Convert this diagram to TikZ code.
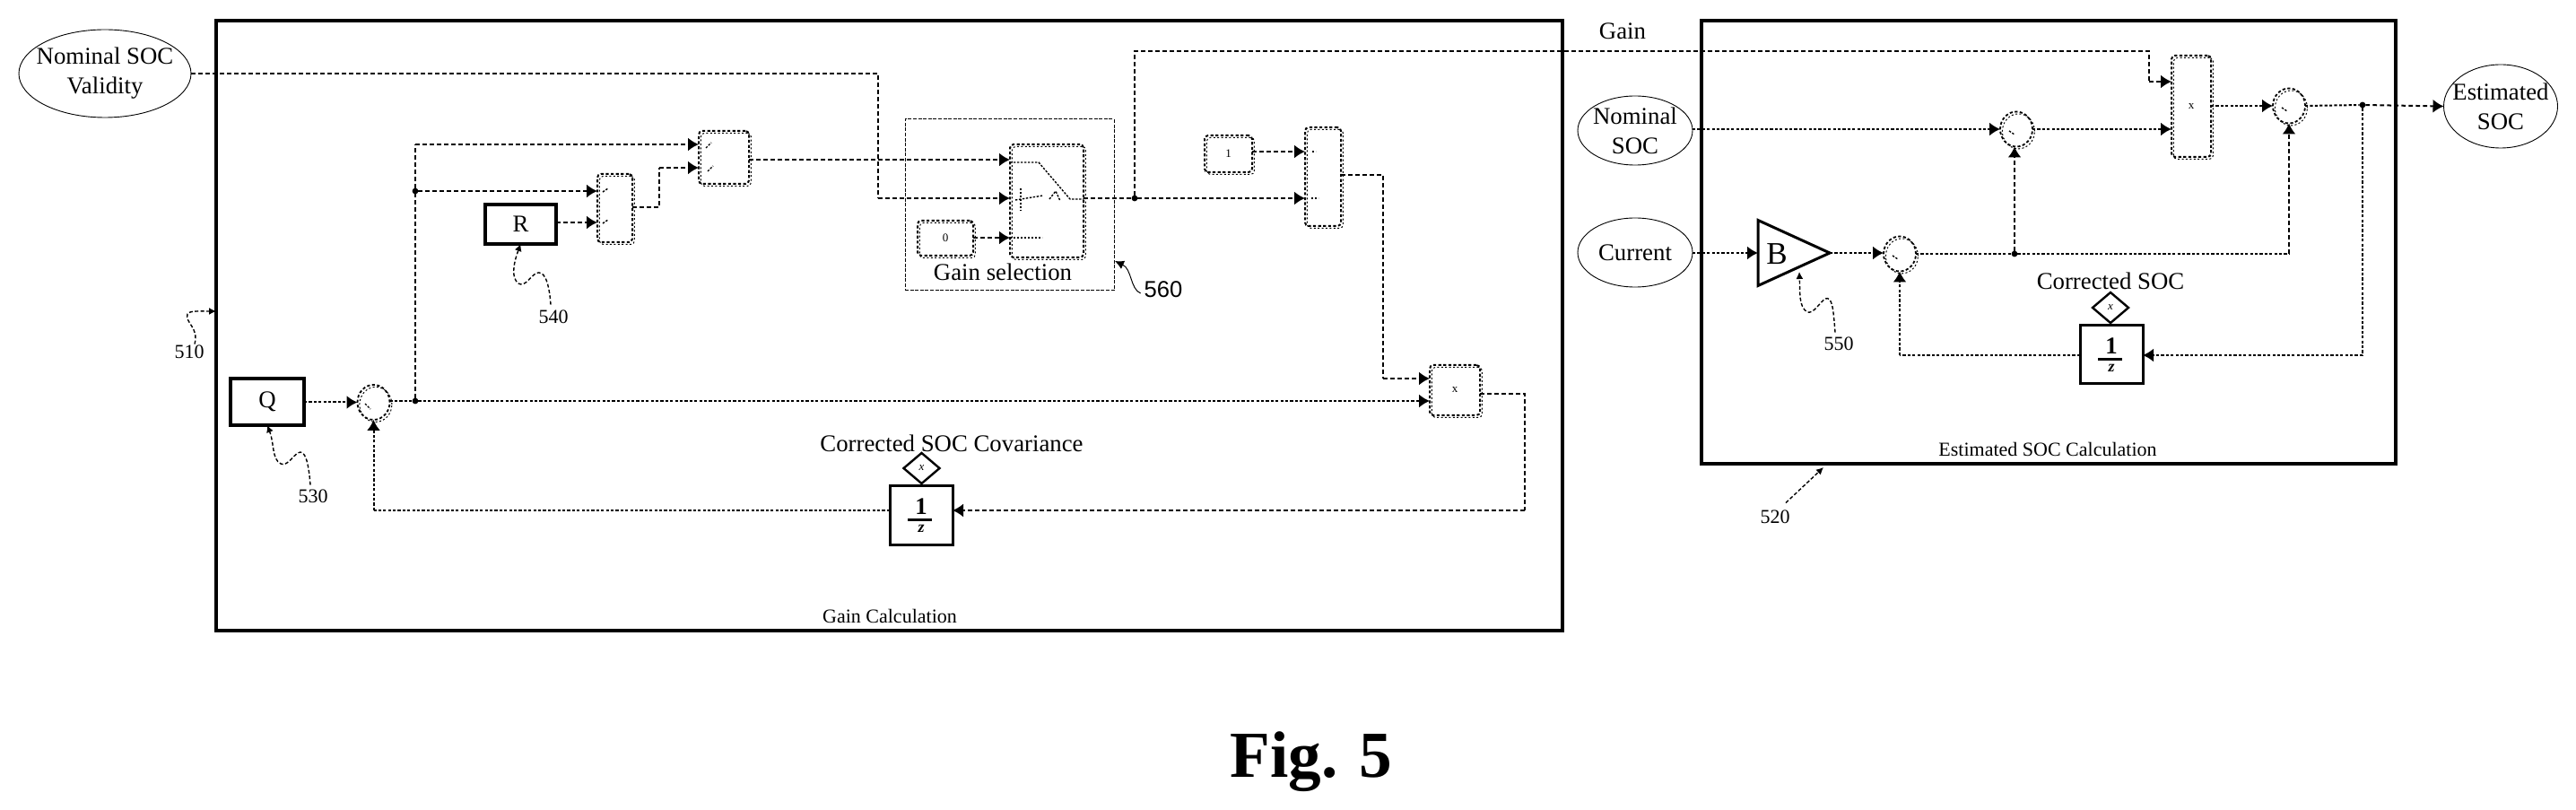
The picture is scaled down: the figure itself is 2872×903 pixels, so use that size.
\documentclass[tikz,border=0pt]{standalone}
\usepackage{fontspec}
\setmainfont{Liberation Serif}
\setsansfont{Liberation Sans}
\usetikzlibrary{arrows.meta,shapes.geometric,calc}
\tikzset{
  x=0.5pt,y=-0.5pt,
  every node/.style={inner sep=0pt,outer sep=0pt},
  txt/.style={font=\fontsize{13.4}{16.5}\selectfont,align=center},
  small/.style={font=\fontsize{11}{13}\selectfont},
  tiny/.style={font=\fontsize{6.5}{7}\selectfont},
  frame/.style={draw,line width=2.3pt,rectangle},
  solidbox/.style={draw,line width=1.7pt,rectangle,txt},
  intbox/.style={draw,line width=1.5pt,rectangle},
  shade/.style={preaction={draw,line width=.5pt,dash pattern=on 1pt off 1.2pt,transform canvas={xshift=1.2pt,yshift=-1.2pt}}},
  blk/.style={draw,line width=1pt,dash pattern=on 1.6pt off 1.2pt,rectangle,rounded corners=2pt,shade},
  sumnode/.style={draw,line width=.9pt,dash pattern=on 1.6pt off 1.2pt,ellipse,minimum width=18pt,minimum height=19.5pt,shade},
  oval/.style={draw,line width=.45pt,ellipse},
  dia/.style={draw,line width=1.2pt,diamond,minimum width=20pt,minimum height=17pt,font=\fontsize{6.5}{7}\itshape},
  conn/.style={line width=1pt,dash pattern=on 2.4pt off 1.6pt,-{Latex[length=6pt,width=7.5pt]}},
  fine/.style={line width=1pt,dash pattern=on 1.6pt off 1.1pt,-{Latex[length=6pt,width=7.5pt]}},
  plain/.style={line width=1pt,dash pattern=on 2.4pt off 1.6pt},
  plainfine/.style={line width=1pt,dash pattern=on 1.6pt off 1.1pt},
  jun/.style={circle,fill,minimum size=3.4pt},
  leader/.style={line width=.7pt,dash pattern=on 2pt off 1.2pt,-{Latex[length=4pt,width=4pt]}},
  tick/.style={line width=.7pt,dash pattern=on 1.2pt off .8pt},
  onebar/.style={font=\bfseries\fontsize{13.4}{14}\selectfont},
  zed/.style={font=\bfseries\itshape\fontsize{9}{10}\selectfont},
  fracbar/.style={line width=1.5pt},
}
\begin{document}
\begin{tikzpicture}
\useasboundingbox (0,0) rectangle (2872,903);
% frames
\node[frame,minimum width=750.5pt,minimum height=340pt] (fgain) at (991.5,363) {};
\node[frame,minimum width=387pt,minimum height=247pt] (fest) at (2284,270) {};
\node[small] (tgain) at (992,687) {Gain Calculation};
\node[small] (test) at (2283,501) {Estimated SOC Calculation};
% ports / rows
\coordinate (ra) at (0,57);
\coordinate (rb) at (0,91);
\coordinate (rc) at (0,143);
\coordinate (re) at (0,161);
\coordinate (rf) at (0,187);
\coordinate (rg) at (0,178);
\coordinate (rh) at (0,213);
\coordinate (ri) at (0,248);
\coordinate (rj) at (0,231);
\coordinate (rk) at (0,221);
\coordinate (rl) at (0,265);
\coordinate (rm) at (0,169);
\coordinate (rn) at (0,195);
\coordinate (ro) at (0,422);
\coordinate (rp) at (0,447);
\coordinate (rq) at (0,439);
\coordinate (rr) at (0,569);
\coordinate (rs) at (0,396);
\coordinate (cxa) at (979,0);
\coordinate (cxb) at (735,0);
\coordinate (cxc) at (1542,0);
\coordinate (cxd) at (1700,0);
\coordinate (cxe) at (2396,0);
% ellipses
\node[oval,minimum width=96pt,minimum height=49pt] (valid) at (117,82) {};
\node[txt] (tvalid) at (117,82) {Nominal SOC\\Validity};
\node[oval,minimum width=64pt,minimum height=38.5pt] (nom) at (1823,145.5) {};
\node[txt] (tnom) at (1823,145.5) {Nominal\\SOC};
\node[oval,minimum width=64pt,minimum height=38.5pt] (cur) at (1823,281.5) {};
\node[txt] (tcur) at (1823,281.5) {Current};
\node[oval,minimum width=63.5pt,minimum height=46.5pt] (est) at (2788,118.5) {};
\node[txt] (test2) at (2788,118.5) {Estimated\\SOC};
% solid blocks
\node[solidbox,minimum width=39.5pt,minimum height=22pt] (R) at (580.5,250) {R};
\node[solidbox,minimum width=41pt,minimum height=26pt] (Q) at (298,448) {Q};
\node[intbox,minimum width=35pt,minimum height=33pt] (intA) at (1027,575) {};
\node[onebar] (oneA) at (1027,565) {1};
\node[zed] (zA) at (1027,589) {z};
\draw[fracbar] (oneA.south west) ++(-8,6) coordinate (barAl) -- (barAl -| intA.center) -- ++(11.5,0);
\node[intbox,minimum width=35pt,minimum height=32.5pt] (intB) at (2354,395.5) {};
\node[onebar] (oneB) at (2354,386) {1};
\node[zed] (zB) at (2354,410) {z};
\draw[fracbar] (oneB.south west) ++(-8,6) coordinate (barBl) -- (barBl -| intB.center) -- ++(11.5,0);
\node[dia] (diaA) at (1027.5,522) {x};
\node[dia] (diaB) at (2353,343) {x};
\node[txt] (tcovar) at (1061,494) {Corrected SOC Covariance};
\node[txt] (tcorr) at (2353,313) {Corrected SOC};
% dashed blocks
\node[blk,minimum width=19.5pt,minimum height=38pt] (bA) at (685.5,232) {};
\node[blk,minimum width=28pt,minimum height=29.5pt] (bB) at (807,175.5) {};
\node[blk,minimum width=41pt,minimum height=63pt] (sw) at (1167,224) {};
\node[blk,minimum width=31pt,minimum height=19.5pt,tiny] (czero) at (1054,265.5) {0};
\node[blk,minimum width=26.5pt,minimum height=20.5pt,tiny] (cone) at (1369.5,171.5) {1};
\node[blk,minimum width=20pt,minimum height=55pt] (bC) at (1475,197) {};
\node[blk,minimum width=28pt,minimum height=28pt,tiny] (bD) at (1622,435) {x};
\node[blk,minimum width=22pt,minimum height=56.5pt,tiny] (bE) at (2443,118.5) {x};
\node[sumnode] (sA) at (416.5,448.5) {};
\node[sumnode] (sB) at (2248,144) {};
\node[sumnode] (sC) at (2552,118) {};
\node[sumnode] (sD) at (2118,283) {};
% gain triangle
\node[draw,line width=1.5pt,isosceles triangle,isosceles triangle stretches,minimum width=36.5pt,minimum height=40pt,anchor=lower side] (tri) at (1960,282) {};
\node[font=\fontsize{17.5}{18}\selectfont] (tB) at (1981,283) {B};
% gain selection
\node[draw,line width=.5pt,dash pattern=on 2pt off .8pt,rectangle,minimum width=116.5pt,minimum height=95.5pt] (gsel) at (1125.5,228.5) {};
\node[txt] (tsel) at (1118,303) {Gain selection};
% junctions
\node[jun] (jA) at (463,447) {};
\node[jun] (jB) at (463,213) {};
\node[jun] (jC) at (1265,221) {};
\node[jun] (jD) at (2246,283) {};
\node[jun] (jE) at (2634,117) {};
% connectors left
\draw[plain] (valid.east) -- (valid.east -| cxa) -- (cxa |- rk);
\draw[conn] (cxa |- rk) -- (sw.west |- rk);
\draw[fine] (Q.east |- sA) -- (sA.west);
\draw[plainfine] (sA.east |- rp) -- (jA);
\draw[fine] (jA) -- (bD.west |- rp);
\draw[plain] (jA) -- (jB);
\draw[conn] (jB) -- (bA.west |- rh);
\draw[plain] (jB) -- (jB |- re);
\draw[conn] (jB |- re) -- (bB.west |- re);
\draw[conn] (R.east |- ri) -- (bA.west |- ri);
\draw[plain] (bA.east |- rj) -- (cxb |- rj) -- (cxb |- rf);
\draw[conn] (cxb |- rf) -- (bB.west |- rf);
\draw[conn] (bB.east |- rg) -- (sw.west |- rg);
\draw[conn] (czero.east |- rl) -- (sw.west |- rl);
\draw[plain] (sw.east |- rk) -- (jC);
\draw[conn] (jC) -- (bC.west |- rk);
\draw[conn] (cone.east |- rm) -- (bC.west |- rm);
\draw[plain] (bC.east |- rn) -- (cxc |- rn) -- (cxc |- ro);
\draw[conn] (cxc |- ro) -- (bD.west |- ro);
\draw[plain] (bD.east |- rq) -- (cxd |- rq) -- (cxd |- rr);
\draw[conn] (cxd |- rr) -- (intA.east |- rr);
\draw[plainfine] (intA.west |- rr) -- (sA.south |- rr);
\draw[fine] (sA.south |- rr) -- (sA.south);
\draw[plain] (jC) -- (jC |- ra) -- (cxe |- ra) -- (cxe |- rb);
\draw[conn] (cxe |- rb) -- (bE.west |- rb);
% connectors right
\draw[fine] (nom.east |- sB) -- (sB.west);
\draw[fine] (sB.east) -- (bE.west |- sB);
\draw[fine] (bE.east |- sC) -- (sC.west);
\draw[plainfine] (sC.east) -- (jE);
\draw[conn] (jE) -- (est.west);
\draw[fine] (cur.east |- tri.lower side) -- (tri.lower side);
\draw[fine] (tri.apex) -- (sD.west |- tri.apex);
\draw[plainfine] (sD.east) -- (jD);
\draw[conn] (jD) -- (jD |- sB.south);
\draw[plainfine] (jD) -- (sC.south |- jD);
\draw[conn] (sC.south |- jD) -- (sC.south);
\draw[plainfine] (jE) -- (jE |- rs);
\draw[fine] (jE |- rs) -- (intB.east |- rs);
\draw[plainfine] (intB.west |- rs) -- (sD.south |- rs);
\draw[fine] (sD.south |- rs) -- (sD.south);
% switch interior
\coordinate (swa) at (1158,181);
\coordinate (swb) at (1193,222);
\draw[tick] (sw.west |- swa) -- (swa) -- (swb) -- (sw.east |- swb);
\draw[tick] (1132,223) -- (1163,218);
\draw[tick] (1138,210) -- (1138,235);
\draw[tick] (1170,222) -- (1177,213) -- (1182,224);
\draw[tick] (sw.west |- rl) -- (1162,265);
% port marks
\draw[tick] (672,214) -- (678,210);
\draw[tick] (672,249) -- (678,245);
\draw[tick] (787,165) -- (793,159);
\draw[tick] (789,191) -- (795,185);
\draw[tick] (1463,169) -- (1467,169);
\draw[tick] (1462,221) -- (1470,221);
\draw[tick] (407,450) -- (413,456);
\draw[tick] (2240,146) -- (2246,150);
\draw[tick] (2544,120) -- (2550,124);
\draw[tick] (2110,285) -- (2116,289);
% reference labels and leaders
\node[small] (l510) at (211,392) {510};
\node[small] (l540) at (617,353) {540};
\node[small] (l530) at (349,553) {530};
\node[small] (l550) at (2050,383) {550};
\node[small] (l520) at (1979,576) {520};
\node[font=\sffamily\fontsize{12.8}{14}\selectfont] (l560) at (1297,323) {560};
\node[txt] (tgainl) at (1809,35) {Gain};
\coordinate (arrA) at (241,347);
\draw[leader] (l510.north) ++(6,-1) .. controls (222,365) and (206,360) .. (209,350) .. controls (211,346) and (225,347) .. (arrA);
\draw[leader] (l540.north) ++(-3,-6) .. controls (612,312) and (606,300) .. (597,305) .. controls (590,310) and (585,320) .. (578,316) .. controls (570,310) and (572,295) .. (R.south);
\draw[leader] (l530.north) ++(-3,-5) .. controls (344,515) and (340,500) .. (332,505) .. controls (325,510) and (320,520) .. (313,517) .. controls (303,512) and (306,495) .. (Q.south);
\coordinate (arrB) at (2006,303);
\draw[leader] (l550.north) ++(-4,-5) .. controls (2044,345) and (2043,330) .. (2035,333) .. controls (2028,338) and (2022,350) .. (2015,348) .. controls (2005,342) and (2007,325) .. (arrB);
\coordinate (arrC) at (2033,521);
\draw[leader] (l520.north) ++(12,-8) -- (arrC);
\coordinate (arrD) at (1243,291);
\draw[line width=.5pt,-{Latex[length=5pt,width=5pt]}] (l560.west) ++(-4,4) .. controls (1260,322) and (1262,300) .. (arrD);
% caption
\node[font=\bfseries\fontsize{36.6}{40}\selectfont,anchor=base] (fig) at (1462,866) {Fig. 5};
\end{tikzpicture}
\end{document}
